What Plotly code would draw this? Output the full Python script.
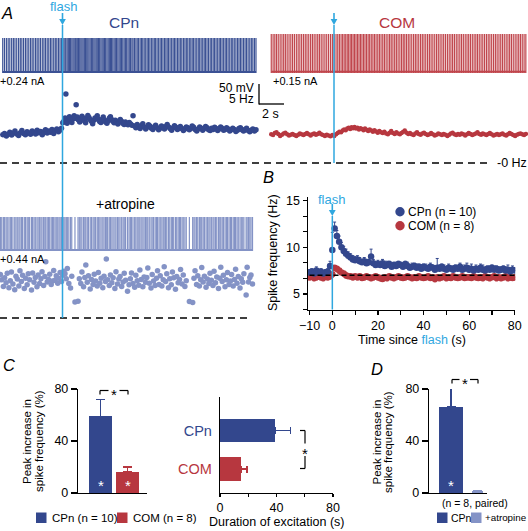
import numpy as np
import plotly.graph_objects as go

W, H = 528, 531
FONT = "Liberation Sans, Arial, sans-serif"
BLUE = "#33478d"
BLUE_TR = "#3b5194"
RED = "#b7373f"
RED_TR = "#c0464d"
LIGHT = "#8493c6"
CYAN = "#2fa7df"

# ---------------- data ----------------
FLASH_T = 5.0  # s, flash time in the example recordings (panel A)

# instantaneous spike frequency (Hz) of each spike, example CPn neuron
cpn_pre_hz = [6.9, 7.2, 6.6, 7.0, 7.5, 6.8, 7.3, 7.8, 7.1, 6.7, 7.4, 7.9, 7.2, 6.9, 7.6, 7.3,
              7.0, 7.8, 7.5, 7.1, 8.0, 7.4, 7.7, 6.9, 7.6, 8.1, 7.3, 7.8, 7.5, 8.2, 7.2, 7.9,
              8.3, 7.6, 8.0, 8.5, 9.8]
cpn_post_hz = [10.2, 11.0, 16.8, 9.7, 10.6, 11.3, 10.4, 9.9, 10.8, 11.5, 10.9, 14.2, 11.2, 10.5,
               10.0, 10.7, 11.4, 11.0, 10.3, 9.8, 10.9, 11.6, 11.1, 10.6, 10.2, 9.6, 10.4, 11.0,
               10.8, 11.5, 10.7, 10.1, 9.9, 10.6, 11.2, 10.5, 10.0, 9.7, 10.3, 10.9, 11.3, 10.6,
               10.2, 9.8, 10.4, 10.1, 9.5, 10.0, 10.6, 10.2, 9.7, 9.4, 10.0, 9.6, 9.3, 9.9, 9.5,
               9.2, 11.5, 9.0, 8.6, 9.4, 8.9, 8.4, 9.1, 9.6, 8.8, 8.3, 8.7, 9.3, 9.0, 8.5, 8.2,
               8.8, 9.2, 8.6, 8.1, 8.5, 9.0, 8.7, 8.3, 8.9, 9.4, 8.8, 8.4, 8.0, 8.6, 9.1, 8.7,
               8.2, 8.5, 8.9, 8.4, 7.9, 8.3, 8.8, 8.6, 8.1, 8.4, 9.0, 8.7, 8.2, 7.8, 8.3, 8.8,
               8.5, 8.0, 8.4, 8.9, 8.6, 8.1, 7.9, 8.5, 8.2, 8.7, 8.4, 7.9, 8.3, 8.8, 8.5, 8.0,
               8.2, 8.6, 8.3, 7.8, 8.1, 8.5, 8.2, 7.7, 8.0, 8.4, 8.6, 8.1, 7.8, 8.2, 8.5, 7.9,
               7.6, 8.0, 8.3, 7.8, 8.1]
# example COM neuron
com_pre_hz = [7.0, 6.8, 7.3, 7.5, 7.1, 6.6, 6.9, 7.2, 7.4, 7.0, 6.7, 6.9, 7.1, 6.8, 6.6, 6.9,
              7.2, 7.0, 6.8, 7.1, 7.3, 7.0, 6.7, 7.0, 7.2, 6.9, 7.1, 7.4, 7.0, 6.8, 6.6, 6.9,
              6.7, 6.5, 6.8, 6.6]
com_post_hz = [7.0, 7.3, 7.6, 7.5, 7.9, 8.2, 8.0, 8.4, 8.6, 8.3, 8.7, 8.5, 8.8, 8.4, 8.6, 8.2,
               8.5, 8.3, 8.0, 8.4, 8.1, 7.8, 8.2, 7.9, 7.6, 8.0, 7.7, 7.4, 7.8, 7.5, 7.3, 7.6,
               7.2, 7.0, 7.4, 7.8, 7.3, 7.1, 7.5, 7.2, 7.0, 7.3, 7.6, 7.9, 7.4, 7.1, 7.3, 7.0,
               6.8, 7.2, 7.5, 7.1, 6.9, 7.2, 7.4, 7.1, 6.8, 7.0, 7.3, 7.0, 6.7, 6.9, 7.2, 7.0,
               6.8, 7.1, 6.9, 6.6, 6.9, 7.2, 7.4, 7.0, 6.8, 7.1, 6.9, 7.2, 7.0, 6.7, 7.0, 7.3,
               7.1, 6.8, 7.0, 7.2, 7.5, 7.1, 6.9, 7.2, 7.0, 6.8, 7.1, 7.3, 7.0, 6.7, 6.9, 7.1,
               6.8, 7.0, 7.2, 6.9, 6.7, 7.0, 7.3, 7.1, 6.8, 6.6, 6.9, 7.1, 7.2, 7.0, 6.8, 7.1]
# example CPn neuron in atropine
atr_pre_hz = [8.0, 10.6, 9.3, 7.7, 9.8, 8.6, 10.9, 7.4, 9.1, 11.2, 8.3, 6.9, 10.2, 9.5, 7.8, 11.5,
              8.9, 10.4, 7.2, 9.7, 8.1, 10.8, 9.3, 6.8, 11.0, 8.7, 9.9, 7.6, 10.5, 8.4, 9.6, 11.3,
              7.9, 10.1, 13.7, 8.8, 9.4, 10.7, 8.2, 9.0, 11.6, 9.2, 10.3, 8.5, 9.7, 11.1, 8.9, 10.4]
atr_post_hz = [11.4, 10.8, 9.6, 12.1, 8.4, 7.3, 10.2, 3.9, 4.1, 9.6, 8.4, 11.2, 7.6, 9.9, 12.9,
               8.7, 10.3, 7.1, 9.4, 8.2, 10.7, 9.0, 7.8, 11.1, 8.5, 9.7, 7.4, 10.2, 8.9, 14.4,
               9.3, 7.9, 10.5, 8.6, 9.8, 7.2, 11.3, 8.3, 9.5, 10.1, 7.7, 8.8, 10.9, 9.2, 6.5,
               8.1, 9.6, 11.0, 8.4, 7.5, 10.4, 9.1, 8.0, 11.7, 9.4, 7.6, 10.0, 8.7, 9.9, 12.2,
               8.5, 7.3, 10.6, 9.0, 7.9, 9.7, 11.5, 8.2, 10.3, 7.8, 9.3, 12.5, 8.9, 10.8, 7.4,
               9.6, 8.1, 11.2, 9.8, 7.0, 10.1, 8.6, 9.4, 11.8, 8.3, 10.5, 7.7, 9.1, 4.0, 3.8,
               9.7, 11.5, 8.2, 10.3, 7.8, 9.3, 12.3, 8.8, 10.2, 7.5, 9.5, 8.4, 10.9, 9.2, 7.9,
               11.4, 8.6, 10.0, 7.2, 9.7, 12.4, 8.9, 10.4, 7.6, 9.3, 11.1, 8.2, 9.0, 10.6, 7.8,
               9.4, 11.9, 8.5, 10.1, 7.3, 9.6, 8.7, 10.8, 5.6, 12.4, 8.8, 9.9, 10.5, 8.3]

# panel B: population spike frequency (Hz), 1 s bins
b_time = list(range(-10, 81))
b_cpn_hz = [7.3, 7.4, 7.2, 7.5, 7.3, 7.4, 7.2, 7.3, 7.4, 8.0,
            9.7, 12.0, 11.2, 10.6, 10.0, 9.6, 9.3, 9.1, 8.9, 8.7,
            8.6, 8.7, 8.5, 8.4, 8.5, 8.3, 8.4, 9.0, 8.3, 8.1,
            8.2, 8.1, 8.3, 8.0, 8.1, 8.2, 7.9, 8.1, 8.0, 8.2,
            8.1, 7.9, 8.2, 8.0, 7.8, 7.9, 8.0, 7.8, 7.9, 7.7,
            7.9, 7.8, 7.7, 7.9, 7.8, 7.6, 7.8, 7.7, 7.9, 7.7,
            7.6, 7.8, 7.7, 7.6, 7.8, 7.7, 7.9, 7.6, 7.7, 7.8,
            7.6, 7.7, 7.5, 7.7, 7.6, 7.8, 7.6, 7.5, 7.7, 7.6,
            7.8, 7.6, 7.7, 7.5, 7.6, 7.7, 7.5, 7.6, 7.4, 7.6, 7.5]
b_cpn_err = [0.3, 0.3, 0.3, 0.4, 0.3, 0.3, 0.3, 0.3, 0.3, 0.5,
             1.9, 0.7, 0.6, 0.6, 0.5, 0.5, 0.5, 0.4, 0.4, 0.4,
             0.4, 0.4, 0.4, 0.3, 0.4, 0.4, 0.3, 0.8, 0.4, 0.3,
             0.4, 0.3, 0.4, 0.5, 0.4, 0.3, 0.4, 0.3, 0.4, 0.3,
             0.3, 0.4, 0.3, 0.4, 0.3, 0.4, 0.3, 0.4, 0.3, 0.4,
             0.3, 0.4, 0.3, 0.4, 0.3, 0.4, 1.0, 0.4, 0.3, 0.4,
             0.3, 0.4, 0.3, 0.4, 0.3, 0.3, 0.4, 0.3, 0.4, 0.5,
             0.4, 0.5, 0.3, 0.4, 0.3, 0.4, 0.5, 0.4, 0.3, 0.4,
             0.3, 0.4, 0.3, 0.4, 0.3, 0.3, 0.4, 0.5, 0.3, 0.4, 0.3]
b_com_hz = [6.8, 6.9, 6.7, 6.8, 6.9, 6.8, 6.7, 6.9, 6.8, 6.9,
            7.1, 7.8, 7.7, 7.5, 7.3, 7.2, 7.0, 6.9, 6.9, 6.8,
            6.9, 6.8, 6.9, 6.7, 6.8, 6.9, 6.8, 6.7, 6.8, 6.9,
            6.8, 6.7, 6.6, 6.8, 6.7, 6.9, 6.8, 6.7, 6.8, 6.9,
            6.8, 6.7, 6.8, 6.9, 6.8, 6.7, 6.8, 6.7, 6.9, 6.8,
            6.7, 6.8, 6.9, 6.7, 6.8, 6.6, 6.8, 6.7, 6.8, 6.9,
            6.7, 6.8, 6.7, 6.9, 6.8, 6.7, 6.8, 6.9, 6.7, 6.8,
            6.8, 6.7, 6.9, 6.8, 6.7, 6.8, 6.7, 6.9, 6.8, 6.7,
            6.8, 6.9, 6.7, 6.8, 6.7, 6.8, 6.9, 6.7, 6.8, 6.7, 6.8]
b_com_err = [0.3, 0.2, 0.3, 0.3, 0.2, 0.3, 0.3, 0.2, 0.3, 0.3,
             0.3, 0.3, 0.3, 0.3, 0.2, 0.3, 0.3, 0.2, 0.3, 0.3,
             0.2, 0.3, 0.3, 0.2, 0.3, 0.3, 0.2, 0.3, 0.3, 0.2,
             0.3, 0.3, 0.2, 0.3, 0.3, 0.2, 0.3, 0.3, 0.2, 0.3,
             0.3, 0.2, 0.3, 0.3, 0.2, 0.3, 0.3, 0.2, 0.3, 0.3,
             0.2, 0.3, 0.3, 0.2, 0.3, 0.3, 0.2, 0.3, 0.3, 0.2,
             0.3, 0.3, 0.2, 0.3, 0.3, 0.2, 0.3, 0.3, 0.2, 0.3,
             0.3, 0.2, 0.3, 0.3, 0.2, 0.3, 0.3, 0.2, 0.3, 0.3,
             0.2, 0.3, 0.3, 0.2, 0.3, 0.3, 0.2, 0.3, 0.3, 0.2, 0.3]
B_BASELINE_HZ = 7.0

# panel C
c_groups = ["CPn", "COM"]
c_legend = ["CPn (n = 10)", "COM (n = 8)"]
c_peak_pct = [59, 16]
c_peak_err = [13, 4]
dur_groups = ["COM", "CPn"]
dur_s = [15, 39]
dur_err = [4, 11]
# panel D
d_groups = ["CPn", "+atropine"]
d_peak_pct = [66, 1.5]
d_peak_err = [15, 0.5]

# ---------------- helpers ----------------
def xd(a, b):
    return [a / W, b / W]


def yd(top, bottom):
    return [1 - bottom / H, 1 - top / H]


def X(p):
    return p / W


def Y(p):
    return 1 - p / H


def spike_times(pre, post, flash):
    f = np.array(pre + post, float)
    t = np.concatenate([[0.0], np.cumsum(1.0 / f[1:])])
    t = t - t[len(pre) - 1] + flash + 0.02
    return t, f


fig = go.Figure()


def add_trace_pair(pre, post, xa, ya_sp, ya_f, col_tr, col_dot, dot):
    t, f = spike_times(pre, post, FLASH_T)
    xs, ys = [], []
    for ti in t:
        xs += [ti, ti, None]
        ys += [0, 1, None]
    fig.add_trace(go.Scatter(x=xs, y=ys, mode="lines", line=dict(color=col_tr, width=1.2),
                             xaxis=xa, yaxis=ya_sp, hoverinfo="skip", showlegend=False))
    fig.add_trace(go.Scatter(x=[t[0], t[-1]], y=[0.03, 0.03], mode="lines",
                             line=dict(color=col_tr, width=2), xaxis=xa, yaxis=ya_sp,
                             hoverinfo="skip", showlegend=False))
    fig.add_trace(go.Scatter(x=t, y=f, mode="markers", marker=dict(size=dot, color=col_dot),
                             xaxis=xa, yaxis=ya_f, hoverinfo="skip", showlegend=False,
                             cliponaxis=False))


add_trace_pair(cpn_pre_hz, cpn_post_hz, "x", "y", "y2", BLUE_TR, BLUE, 5.5)
add_trace_pair(com_pre_hz, com_post_hz, "x2", "y3", "y4", RED_TR, RED, 4.5)
add_trace_pair(atr_pre_hz, atr_post_hz, "x", "y5", "y6", LIGHT, LIGHT, 5.5)

# panel B
fig.add_trace(go.Scatter(x=b_time, y=b_com_hz, mode="markers", xaxis="x3", yaxis="y7",
                         marker=dict(size=6.5, color=RED), showlegend=False,
                         error_y=dict(type="data", symmetric=False, array=[0] * len(b_com_err),
                                      arrayminus=b_com_err, color=RED, thickness=1, width=1.5)))
fig.add_trace(go.Scatter(x=b_time, y=b_cpn_hz, mode="markers", xaxis="x3", yaxis="y7",
                         marker=dict(size=6.5, color=BLUE), showlegend=False,
                         error_y=dict(type="data", symmetric=False, array=b_cpn_err,
                                      arrayminus=[0] * len(b_cpn_err), color=BLUE,
                                      thickness=1, width=1.5)))

# panel C bars
for g, v, e, col in zip(c_groups, c_peak_pct, c_peak_err, [BLUE, RED]):
    fig.add_trace(go.Bar(x=[g], y=[v], width=0.85, marker=dict(color=col, line=dict(width=0)),
                         xaxis="x4", yaxis="y8", showlegend=False,
                         error_y=dict(type="data", symmetric=False, array=[e], arrayminus=[0],
                                      color=col, thickness=1.5, width=4.5)))
for g, v, e, col in zip(dur_groups, dur_s, dur_err, [RED, BLUE]):
    fig.add_trace(go.Bar(y=[g], x=[v], orientation="h", width=0.6,
                         marker=dict(color=col, line=dict(width=0)),
                         xaxis="x5", yaxis="y9", showlegend=False,
                         error_x=dict(type="data", symmetric=False, array=[e], arrayminus=[0],
                                      color=col, thickness=1.5, width=3.5)))
# panel D bars
for g, v, e, col, wd in zip(d_groups, d_peak_pct, d_peak_err, [BLUE, LIGHT], [0.9, 0.45]):
    fig.add_trace(go.Bar(x=[g], y=[v], width=wd, marker=dict(color=col, line=dict(width=0)),
                         xaxis="x6", yaxis="y10", showlegend=False,
                         error_y=dict(type="data", symmetric=False, array=[e], arrayminus=[0],
                                      color=col, thickness=1.5, width=4.5)))

# ---------------- axes ----------------
PX_PER_S = 12.5
HZ_PX = 4.1


def hidden(domain, rng, anchor):
    return dict(domain=domain, range=rng, visible=False, fixedrange=True, anchor=anchor,
                showgrid=False, zeroline=False)


axis_style = dict(showline=True, linecolor="black", linewidth=1.2, ticks="outside",
                  tickcolor="black", tickwidth=1.2, showgrid=False, zeroline=False,
                  tickfont=dict(family=FONT, size=12.5, color="black"), fixedrange=True,
                  automargin=False)

layout_axes = dict(
    xaxis=hidden(xd(0, 264), [0, 264 / PX_PER_S], "y"),
    yaxis=hidden(yd(38, 73), [0, 1], "x"),
    yaxis2=hidden(yd(80, 170), [-(170 - 163) / HZ_PX, (163 - 80) / HZ_PX], "x"),
    xaxis2=hidden(xd(264, 528), [FLASH_T - 70 / PX_PER_S, FLASH_T + 194 / PX_PER_S], "y3"),
    yaxis3=hidden(yd(34, 73), [0, 1], "x2"),
    yaxis4=hidden(yd(80, 170), [-(170 - 163) / HZ_PX, (163 - 80) / HZ_PX], "x2"),
    yaxis5=hidden(yd(217, 251), [0, 1], "x"),
    yaxis6=hidden(yd(252, 325), [-(325 - 318) / HZ_PX, (318 - 252) / HZ_PX], "x"),
    xaxis3=dict(domain=xd(307.7, 515.2), range=[-10.8, 80.2], anchor="y7", ticklen=4,
                tickmode="array", tickvals=list(range(-10, 81, 10)),
                ticktext=["\u221210", "0", "", "20", "", "40", "", "60", "", "80"], **axis_style),
    yaxis7=dict(domain=yd(196.5, 309.5), range=[3.333, 15.44], anchor="x3", ticklen=4,
                tickmode="array", tickvals=[3.333, 5, 6.667, 8.333, 10, 11.667, 13.333, 15],
                ticktext=["", "5", "", "", "10", "", "", "15"], **axis_style),
    xaxis4=dict(domain=xd(78, 147), type="category", categoryarray=c_groups,
                range=[-(100.5 - 78) / 27, 1 + (147 - 127.5) / 27], anchor="y8",
                showticklabels=False, **{**axis_style, "ticks": ""}),
    yaxis8=dict(domain=yd(389, 493), range=[0, 80], anchor="x4", tickvals=[0, 40, 80],
                ticklen=6, **axis_style),
    xaxis5=dict(domain=xd(220, 333), range=[0, 80], anchor="y9", ticklen=3,
                tickmode="array", tickvals=[0, 20, 40, 60, 80],
                ticktext=["0", "", "40", "", "80"], **axis_style),
    yaxis9=dict(domain=yd(397, 493), type="category", categoryarray=dur_groups,
                range=[-(493 - 469) / 38.5, 1 + (430.5 - 397) / 38.5], anchor="x5",
                tickmode="array", tickvals=dur_groups, ticklabelstandoff=4,
                ticktext=[f"<span style='color:{RED}'>COM</span>",
                          f"<span style='color:{BLUE}'>CPn</span>"],
                **{**axis_style, "ticks": "", "tickfont": dict(family=FONT, size=14.5)}),
    xaxis6=dict(domain=xd(429, 487), type="category", categoryarray=d_groups,
                range=[-(451 - 429) / 26.5, 1 + (487 - 477.5) / 26.5], anchor="y10",
                showticklabels=False, **{**axis_style, "ticks": ""}),
    yaxis10=dict(domain=yd(389, 493), range=[0, 80], anchor="x6", tickvals=[0, 40, 80],
                 ticklen=6, **axis_style),
)

# ---------------- shapes ----------------
shapes = []


def seg(x0, y0, x1, y1, color="black", width=1.2, dash=None):
    shapes.append(dict(type="line", xref="paper", yref="paper", x0=X(x0), y0=Y(y0),
                       x1=X(x1), y1=Y(y1), line=dict(color=color, width=width, dash=dash)))


def arrow(xc, y0, y1):
    seg(xc, y0, xc, y1 - 4, CYAN, 1.6)
    shapes.append(dict(type="path", xref="paper", yref="paper", fillcolor=CYAN,
                       line=dict(width=0),
                       path=f"M {X(xc - 3.4)},{Y(y1 - 6)} L {X(xc + 3.4)},{Y(y1 - 6)} "
                            f"L {X(xc)},{Y(y1)} Z"))


# zero-frequency reference lines
shapes.append(dict(type="line", xref="paper", yref="y2", x0=0, x1=X(491), y0=0, y1=0,
                   line=dict(color="black", width=1.3, dash="7px,5px")))
shapes.append(dict(type="line", xref="paper", yref="y6", x0=0, x1=X(252), y0=0, y1=0,
                   line=dict(color="black", width=1.3, dash="7px,5px")))
# flash lines
shapes.append(dict(type="line", xref="x", yref="paper", x0=FLASH_T, x1=FLASH_T,
                   y0=Y(318), y1=Y(25), line=dict(color=CYAN, width=1.5)))
shapes.append(dict(type="line", xref="x2", yref="paper", x0=FLASH_T, x1=FLASH_T,
                   y0=Y(163), y1=Y(25), line=dict(color=CYAN, width=1.5)))
shapes.append(dict(type="line", xref="x3", yref="paper", x0=0, x1=0,
                   y0=Y(309.5), y1=Y(216), line=dict(color=CYAN, width=1.5)))
# baseline in B
shapes.append(dict(type="line", xref="x3", yref="y7", x0=-10, x1=80, y0=B_BASELINE_HZ,
                   y1=B_BASELINE_HZ, line=dict(color="black", width=1.5, dash="5px,3px")))
arrow(62.5, 13, 25)
arrow(334, 13, 25)
arrow(332.3, 204, 216)
# scale bar
seg(259, 84, 259, 104.5, width=1.3)
seg(259, 104, 284, 104, width=1.3)
# significance brackets
seg(100, 394.5, 100, 390.5); seg(100, 390.5, 108.5, 390.5)
seg(119.5, 390.5, 128, 390.5); seg(128, 390.5, 128, 394.5)
seg(452, 383.5, 452, 379.5); seg(452, 379.5, 459.5, 379.5)
seg(470, 379.5, 478, 379.5); seg(478, 379.5, 478, 383.5)
seg(300, 430.5, 305, 430.5); seg(305, 430.5, 305, 443.5)
seg(305, 456, 305, 468.5); seg(300, 468.5, 305, 468.5)
# legend swatches
shapes.append(dict(type="circle", xref="paper", yref="paper", x0=X(395.3), x1=X(404.7),
                   y0=Y(216.4), y1=Y(207.0), fillcolor=BLUE, line=dict(width=0)))
shapes.append(dict(type="circle", xref="paper", yref="paper", x0=X(395.3), x1=X(404.7),
                   y0=Y(230.4), y1=Y(221.0), fillcolor=RED, line=dict(width=0)))
for x0, col in [(36, BLUE), (117, RED), (437, BLUE), (471, LIGHT)]:
    shapes.append(dict(type="rect", xref="paper", yref="paper", x0=X(x0), x1=X(x0 + 10.5),
                       y0=Y(523), y1=Y(512.5), fillcolor=col, line=dict(width=0)))

# ---------------- text ----------------
annotations = []


def txt(x, y, s, size=12.5, color="black", xa="center", angle=0):
    annotations.append(dict(x=X(x), y=Y(y), xref="paper", yref="paper", text=s,
                            showarrow=False, xanchor=xa, yanchor="middle", textangle=angle,
                            font=dict(family=FONT, size=size, color=color)))


txt(7, 12.5, "<i>A</i>", 16.5)
txt(268, 177, "<i>B</i>", 16.5)
txt(9, 365, "<i>C</i>", 16.5)
txt(377, 369, "<i>D</i>", 16.5)
txt(63, 6, "flash", 13, CYAN)
txt(124, 22.5, "CPn", 15.5, BLUE)
txt(396.5, 22.5, "COM", 15.5, RED)
txt(-2, 80.5, "+0.24 nA", 11, xa="left")
txt(271, 80.5, "+0.15 nA", 11, xa="left")
txt(-2, 258.5, "+0.44 nA", 11, xa="left")
txt(125, 204, "+atropine", 14)
txt(256, 88.5, "50 mV", 12, xa="right")
txt(256, 98.8, "5 Hz", 12, xa="right")
txt(270, 114, "2 s", 12.5)
txt(495, 163, "-0 Hz", 12.5, xa="left")
txt(331.5, 199, "flash", 13, CYAN)
txt(406, 211.7, "CPn (n = 10)", 12, xa="left")
txt(406, 225.7, "COM (n = 8)", 12, xa="left")
txt(411.5, 339.5, f"Time since <span style='color:{CYAN}'>flash</span> (s)", 12.5)
txt(273, 253, "Spike frequency (Hz)", 12.5, angle=-90)
txt(26.5, 441.5, "Peak increase in", 11.5, angle=-90)
txt(38.5, 441.5, "spike frequency (%)", 11.5, angle=-90)
txt(376.5, 442, "Peak increase in", 11.5, angle=-90)
txt(388, 442, "spike frequency (%)", 11.5, angle=-90)
txt(114, 394, "*", 15)
txt(464.5, 383, "*", 15)
txt(305, 453.5, "*", 15)
txt(100.5, 485, "*", 15, "white")
txt(127.5, 485, "*", 15, "white")
txt(451, 485, "*", 15, "white")
txt(276.5, 522, "Duration of excitation (s)", 12.5)
txt(475, 503, "(n = 8, paired)", 10.5)
txt(49.5, 517.5, "CPn (n = 10)", 11.5, xa="left")
txt(130.5, 517.5, "COM (n = 8)", 11.5, xa="left")
txt(448.5, 517.5, "CPn", 10.5, xa="left")
txt(482.5, 517.5, "+atropine", 9.8, xa="left")

fig.update_layout(width=W, height=H,
                  margin=dict(l=0, r=0, t=0, b=0, pad=0, autoexpand=False),
                  paper_bgcolor="white", plot_bgcolor="rgba(0,0,0,0)",
                  showlegend=False, shapes=shapes, annotations=annotations,
                  font=dict(family=FONT), bargap=0, **layout_axes)
fig.write_html("out.html", config={"displayModeBar": False, "staticPlot": True},
               post_script="document.body.style.margin='0';"
                           "document.body.style.overflow='hidden';")
